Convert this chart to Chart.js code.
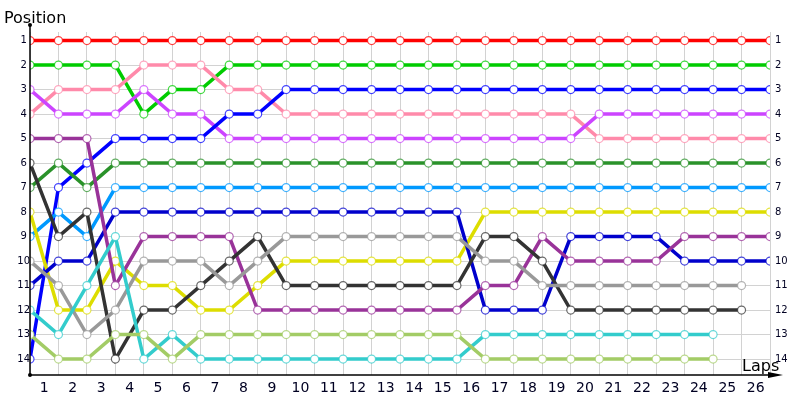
<!DOCTYPE html>
<html>
<head>
<meta charset="utf-8">
<script src="https://cdn.jsdelivr.net/npm/chart.js@4"></script>
<style>
  html,body{margin:0;padding:0;background:#fff;}
  canvas{display:block;}
</style>
</head>
<body>
<canvas id="lapChart" width="800" height="400"></canvas>
<script>
// Lap chart: position of each car after each lap (index 0 = start grid).

const lapLabels = ["1","2","3","4","5","6","7","8","9","10","11","12","13","14","15","16","17","18","19","20","21","22","23","24","25","26"];
const positionTicks = [1,2,3,4,5,6,7,8,9,10,11,12,13,14];

// positions, one value per lap point (start + 26 laps)
const redCar     = [1,1,1,1,1,1,1,1,1,1,1,1,1,1,1,1,1,1,1,1,1,1,1,1,1,1,1];
const greenCar   = [2,2,2,2,4,3,3,2,2,2,2,2,2,2,2,2,2,2,2,2,2,2,2,2,2,2,2];
const pinkCar    = [4,3,3,3,2,2,2,3,3,4,4,4,4,4,4,4,4,4,4,4,5,5,5,5,5,5,5];
const violetCar  = [3,4,4,4,3,4,4,5,5,5,5,5,5,5,5,5,5,5,5,5,4,4,4,4,4,4,4];
const blueCar    = [14,7,6,5,5,5,5,4,4,3,3,3,3,3,3,3,3,3,3,3,3,3,3,3,3,3,3];
const dkGreenCar = [7,6,7,6,6,6,6,6,6,6,6,6,6,6,6,6,6,6,6,6,6,6,6,6,6,6,6];
const skyCar     = [9,8,9,7,7,7,7,7,7,7,7,7,7,7,7,7,7,7,7,7,7,7,7,7,7,7,7];
const yellowCar  = [8,12,12,10,11,11,12,12,11,10,10,10,10,10,10,10,8,8,8,8,8,8,8,8,8,8,8];
const navyCar    = [11,10,10,8,8,8,8,8,8,8,8,8,8,8,8,8,12,12,12,9,9,9,9,10,10,10,10];
const purpleCar  = [5,5,5,11,9,9,9,9,12,12,12,12,12,12,12,12,11,11,9,10,10,10,10,9,9,9,9];
const blackCar   = [6,9,8,14,12,12,11,10,9,11,11,11,11,11,11,11,9,9,10,12,12,12,12,12,12,12];
const greyCar    = [10,11,13,12,10,10,10,11,10,9,9,9,9,9,9,9,10,10,11,11,11,11,11,11,11,11];
const cyanCar    = [12,13,11,9,14,13,14,14,14,14,14,14,14,14,14,14,13,13,13,13,13,13,13,13,13];
const oliveCar   = [13,14,14,13,13,14,13,13,13,13,13,13,13,13,13,13,14,14,14,14,14,14,14,14,14];

const seriesList = [
  {name:"olive",   data:oliveCar,   color:"#a3cc66"},
  {name:"cyan",    data:cyanCar,    color:"#33cccc"},
  {name:"grey",    data:greyCar,    color:"#999999"},
  {name:"black",   data:blackCar,   color:"#333333"},
  {name:"purple",  data:purpleCar,  color:"#993399"},
  {name:"navy",    data:navyCar,    color:"#0000cc"},
  {name:"yellow",  data:yellowCar,  color:"#dddd00"},
  {name:"sky",     data:skyCar,     color:"#0099ff"},
  {name:"dkgreen", data:dkGreenCar, color:"#2a922a"},
  {name:"blue",    data:blueCar,    color:"#0000ff"},
  {name:"violet",  data:violetCar,  color:"#cc44ff"},
  {name:"pink",    data:pinkCar,    color:"#ff8aaa"},
  {name:"green",   data:greenCar,   color:"#00cc00"},
  {name:"red",     data:redCar,     color:"#ff0000"}
];

const GRID = "#d2d2d2";
const TICK_COLOR = "#000022";

// axes with arrows + the two axis titles
const axesPlugin = {
  id:"axesArrows",
  afterDraw(chart){
    const {ctx, chartArea:a} = chart;
    ctx.save();
    ctx.strokeStyle = "#000"; ctx.fillStyle = "#000"; ctx.lineWidth = 1.5;
    // y axis
    ctx.beginPath(); ctx.moveTo(a.left, 25); ctx.lineTo(a.left, a.bottom); ctx.stroke();
    ctx.beginPath(); ctx.arc(a.left, 25, 2, 0, Math.PI*2); ctx.fill();
    // x axis
    ctx.beginPath(); ctx.moveTo(a.left, a.bottom); ctx.lineTo(a.right + 6, a.bottom); ctx.stroke();
    ctx.beginPath(); ctx.arc(a.left, a.bottom, 2, 0, Math.PI*2); ctx.fill();
    ctx.beginPath();
    ctx.moveTo(a.right + 13, a.bottom);
    ctx.lineTo(a.right - 2, a.bottom - 3);
    ctx.lineTo(a.right - 2, a.bottom + 3);
    ctx.closePath(); ctx.fill();
    // titles
    ctx.font = "16px 'DejaVu Sans'";
    ctx.textBaseline = "alphabetic";
    ctx.textAlign = "left";
    ctx.fillText("Position", 4, 23);
    ctx.fillText("Laps", 742, 371);
    ctx.restore();
  }
};

const yCommon = {
  type:"linear", reverse:true, min:0.65, max:14.65,
  afterBuildTicks: s => { s.ticks = positionTicks.map(v => ({value:v})); },
  afterFit: s => { s.width = 30; }
};

new Chart(document.getElementById("lapChart"), {
  type:"line",
  data:{
    datasets: seriesList.map(s => ({
      label:s.name,
      data:s.data.map((p,i) => ({x:i, y:p})),
      borderColor:s.color,
      borderWidth:3.5,
      pointRadius:4,
      pointBorderWidth:1.2,
      pointBackgroundColor:"#ffffff",
      pointBorderColor:s.color + "bb",
      tension:0,
      xAxisID:"x", yAxisID:"y"
    }))
  },
  options:{
    responsive:false,
    animation:false,
    layout:{padding:{top:32, left:0, right:0, bottom:0}},
    plugins:{legend:{display:false}, tooltip:{enabled:false}},
    scales:{
      x:{
        type:"linear", min:0, max:26, position:"bottom",
        afterBuildTicks: s => { s.ticks = lapLabels.map((l,i) => ({value:i})).concat([{value:26}]); },
        ticks:{display:false},
        grid:{color:GRID, drawTicks:false},
        border:{display:false},
        afterFit: s => { s.height = 0; }
      },
      xLaps:{
        type:"linear", min:0, max:26, position:"bottom",
        afterBuildTicks: s => { s.ticks = lapLabels.map((l,i) => ({value:i + 0.5})); },
        ticks:{
          autoSkip:false, maxRotation:0, padding:5, color:TICK_COLOR,
          font:{family:"'DejaVu Sans'", size:14},
          callback:(v,i) => lapLabels[i]
        },
        grid:{display:false, drawTicks:false},
        border:{display:false},
        afterFit: s => { s.height = 25; }
      },
      y:Object.assign({}, yCommon, {
        position:"left",
        ticks:{crossAlign:"center", padding:0, color:TICK_COLOR, font:{family:"'DejaVu Sans'", size:10}},
        grid:{color:GRID, drawTicks:false},
        border:{display:false}
      }),
      yRight:Object.assign({}, yCommon, {
        position:"right",
        ticks:{padding:5, color:TICK_COLOR, font:{family:"'DejaVu Sans'", size:10}},
        grid:{display:false, drawTicks:false},
        border:{display:false}
      })
    }
  },
  plugins:[axesPlugin]
});
</script>
</body>
</html>
